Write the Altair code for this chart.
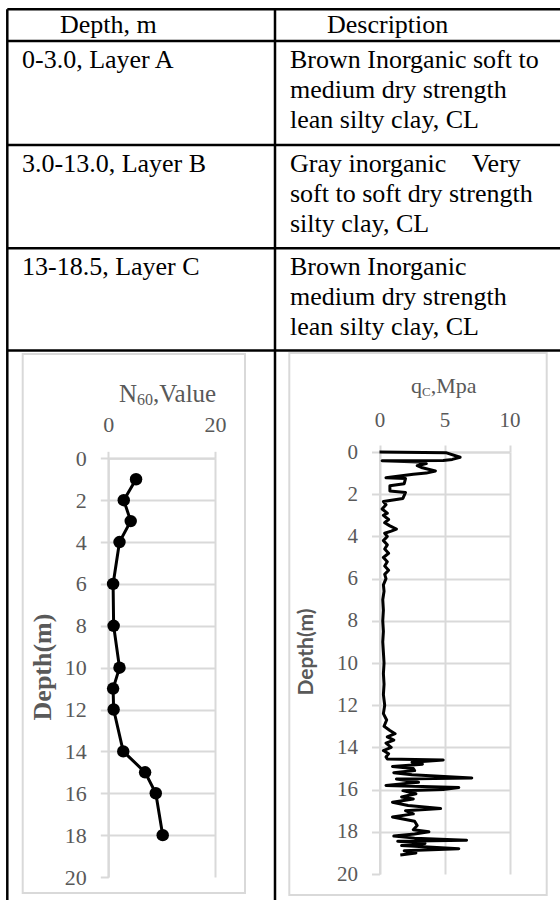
import altair as alt
import pandas as pd

# ------------------------------------------------------------------ data
table_header = ["Depth, m", "Description"]
layer_depths = ["0-3.0, Layer A", "3.0-13.0, Layer B", "13-18.5, Layer C"]
layer_desc = [
    ["Brown Inorganic soft to", "medium dry strength", "lean silty clay, CL"],
    ["Gray inorganic\u00a0\u00a0\u00a0 Very", "soft to soft dry strength", "silty clay, CL"],
    ["Brown Inorganic", "medium dry strength", "lean silty clay, CL"],
]

n60_depth = [1, 2, 3, 4, 6, 8, 10, 11, 12, 14, 15, 16, 18]
n60_value = [5.2, 2.9, 4.2, 2.1, 0.9, 1.0, 2.1, 0.9, 1.0, 2.8, 6.9, 8.9, 10.2]

qc_depth = [0.00, 0.03, 0.25, 0.35, 0.40, 0.42, 0.47, 0.55, 0.65, 0.75, 0.90, 1.00, 1.05,
            1.22, 1.26, 1.50, 1.60, 1.85, 1.92, 2.20, 2.35, 2.50, 2.70, 2.90, 3.00, 3.20,
            3.35, 3.50, 3.65, 3.75, 3.85, 4.00, 4.20, 4.40, 4.60, 4.80, 5.00, 5.20, 5.40,
            5.60, 5.80, 6.00, 6.30, 6.60, 7.00, 7.50, 8.00, 8.50, 9.00, 9.50, 10.00, 10.50,
            11.00, 11.50, 12.00, 12.40, 12.70, 13.00, 13.20, 13.35, 13.50, 13.65, 13.80,
            14.00, 14.15, 14.30, 14.45, 14.55, 14.60, 14.70, 14.80, 14.90, 15.00, 15.10,
            15.20, 15.30, 15.45, 15.50, 15.65, 15.80, 15.90, 16.00, 16.05, 16.20, 16.35,
            16.45, 16.60, 16.75, 16.90, 17.00, 17.15, 17.30, 17.50, 17.70, 17.90, 18.00,
            18.10, 18.20, 18.30, 18.40, 18.45, 18.55, 18.65, 18.80, 18.90, 19.00, 19.10]
qc_value = [0.0, 5.1, 6.2, 5.6, 4.9, 0.2, 3.0, 3.6, 2.9, 3.3, 4.3, 3.6, 2.6,
            0.5, 2.0, 1.9, 0.8, 0.8, 2.0, 1.8, 0.3, 0.5, 0.2, 0.6, 0.3, 0.7,
            0.4, 0.8, 1.3, 0.9, 0.4, 0.6, 0.3, 0.6, 0.4, 0.7, 0.3, 0.6, 0.4,
            0.7, 0.4, 0.5, 0.3, 0.35, 0.25, 0.3, 0.25, 0.3, 0.25, 0.3, 0.35, 0.3,
            0.35, 0.3, 0.4, 0.3, 0.55, 0.35, 0.8, 1.2, 0.6, 1.1, 0.5,
            0.9, 0.3, 0.7, 0.5, 0.6, 4.9, 2.5, 3.3, 1.0, 2.6, 2.7,
            1.1, 2.5, 7.1, 1.3, 3.0, 0.5, 6.1, 4.9, 1.8, 2.8, 1.7,
            2.6, 1.0, 2.2, 4.7, 2.0, 2.6, 1.0, 2.7, 2.9, 2.6, 3.8,
            2.7, 1.1, 2.7, 6.7, 1.4, 3.5, 1.7, 6.1, 1.9, 2.8, 1.6]

depth_ticks = [0, 2, 4, 6, 8, 10, 12, 14, 16, 18, 20]
n60_ticks = [0, 20]
qc_ticks = [0, 5, 10]

# ------------------------------------------------------------------ layout / style
W, H = 560, 900
SERIF = "Liberation Serif"
SANS = "Lato"
TXT = "#595959"
GRID = "#d9d9d9"

TBL_L, TBL_M, TBL_R, TBL_T = 7.3, 275, 560, 9.3
ROW_LINES = [41, 145, 248.3, 350.5]
HEAD_BASE = 33
COL1_X, COL2_X = 22, 290
HEAD_X = [60, 327]
FIRST_BASE, LINE_GAP = 27, 30
TBL_FONT = 26

LEFT_BOX = (22.7, 245, 354, 893)
RIGHT_BOX = (289.3, 546.7, 353, 895)
L_X, L_Y = [108.3, 215], [458.3, 877]
R_X, R_Y = [379.5, 509.5], [452, 874]

# ------------------------------------------------------------------ table
seg = [dict(x=TBL_L, x2=TBL_R, y=TBL_T, y2=TBL_T)]
seg += [dict(x=TBL_L, x2=TBL_R, y=r, y2=r) for r in ROW_LINES]
seg += [dict(x=TBL_L, x2=TBL_L, y=TBL_T, y2=H), dict(x=TBL_M, x2=TBL_M, y=TBL_T, y2=H)]
rules = alt.Chart(pd.DataFrame(seg)).mark_rule(color="black", strokeWidth=2.5).encode(
    x=alt.X("x:Q", scale=None), x2="x2:Q", y=alt.Y("y:Q", scale=None), y2="y2:Q")

txt = [dict(x=HEAD_X[0], y=HEAD_BASE, t=table_header[0]),
       dict(x=HEAD_X[1], y=HEAD_BASE, t=table_header[1])]
for i, (d, lines) in enumerate(zip(layer_depths, layer_desc)):
    top = ROW_LINES[i]
    txt.append(dict(x=COL1_X, y=top + FIRST_BASE, t=d))
    for j, ln in enumerate(lines):
        txt.append(dict(x=COL2_X, y=top + FIRST_BASE + j * LINE_GAP, t=ln))
table_text = alt.Chart(pd.DataFrame(txt)).mark_text(
    font=SERIF, fontSize=TBL_FONT, align="left", baseline="alphabetic", color="black"
).encode(x=alt.X("x:Q", scale=None), y=alt.Y("y:Q", scale=None), text="t:N")

# ------------------------------------------------------------------ panel boxes
boxes = alt.Chart(pd.DataFrame([
    dict(x=LEFT_BOX[0], x2=LEFT_BOX[1], y=LEFT_BOX[2], y2=LEFT_BOX[3]),
    dict(x=RIGHT_BOX[0], x2=RIGHT_BOX[1], y=RIGHT_BOX[2], y2=RIGHT_BOX[3]),
])).mark_rect(filled=False, stroke=GRID, strokeWidth=2).encode(
    x=alt.X("x:Q", scale=None), x2="x2:Q", y=alt.Y("y:Q", scale=None), y2="y2:Q")


def depth_axis(x0, fs):
    return alt.Axis(orient="left", offset=-x0, values=depth_ticks, title=None,
                    labelFont=SERIF, labelFontSize=fs, labelColor=TXT, labelPadding=14,
                    tickSize=8, tickColor=GRID, tickWidth=2,
                    domainColor=GRID, domainWidth=2, grid=True,
                    gridColor={"condition": {"test": "datum.value === 20", "value": "transparent"},
                               "value": GRID},
                    gridWidth=2, labelFlush=False, labelOverlap=False)


def top_axis(y0, ticks, fs):
    return alt.Axis(orient="top", offset=-y0, values=ticks, title=None,
                    labelFont=SERIF, labelFontSize=fs, labelColor=TXT, labelPadding=15,
                    tickSize=7, tickColor=GRID, tickWidth=2,
                    domainColor=GRID, domainWidth=2, grid=True, gridColor=GRID,
                    gridWidth=2, labelFlush=False, labelOverlap=False)


# ------------------------------------------------------------------ N60 panel
n60 = pd.DataFrame({"depth": n60_depth, "value": n60_value})
base_n = alt.Chart(n60).encode(
    x=alt.X("value:Q", scale=alt.Scale(domain=[0, 20], range=L_X, nice=False, zero=False),
            axis=top_axis(L_Y[0], n60_ticks, 22)),
    y=alt.Y("depth:Q", scale=alt.Scale(domain=[0, 20], range=L_Y, nice=False, zero=False),
            axis=depth_axis(L_X[0], 22)),
    order=alt.Order("depth:Q"),
)
left_panel = alt.layer(
    base_n.mark_line(color="black", strokeWidth=3, strokeJoin="round"),
    base_n.mark_point(filled=True, color="black", size=155, opacity=1),
)

# ------------------------------------------------------------------ qc panel
qc = pd.DataFrame({"depth": qc_depth, "value": qc_value, "i": range(len(qc_depth))})
right_panel = alt.Chart(qc).mark_line(color="black", strokeWidth=3, strokeJoin="round").encode(
    x=alt.X("value:Q", scale=alt.Scale(domain=[0, 10], range=R_X, nice=False, zero=False),
            axis=top_axis(R_Y[0], qc_ticks, 21)),
    y=alt.Y("depth:Q", scale=alt.Scale(domain=[0, 20], range=R_Y, nice=False, zero=False),
            axis=depth_axis(R_X[0], 21)),
    order=alt.Order("i:Q"),
)

# ------------------------------------------------------------------ titles
title_pieces = pd.DataFrame([
    dict(x=119, y=402, t="N", s=25),
    dict(x=137, y=405, t="60", s=16),
    dict(x=153, y=402, t=",Value", s=25),
    dict(x=411, y=393, t="q", s=22),
    dict(x=422, y=396, t="C", s=13),
    dict(x=430.7, y=393, t=",Mpa", s=22),
])
titles = alt.Chart(title_pieces).mark_text(
    font=SERIF, align="left", baseline="alphabetic", color=TXT
).encode(x=alt.X("x:Q", scale=None), y=alt.Y("y:Q", scale=None), text="t:N",
         size=alt.Size("s:Q", scale=None, legend=None))

ytitle_left = alt.Chart(pd.DataFrame([dict(x=43, y=667, t="Depth(m)")])).mark_text(
    font=SERIF, fontWeight="bold", fontSize=26, angle=270, align="center",
    baseline="middle", color=TXT
).encode(x=alt.X("x:Q", scale=None), y=alt.Y("y:Q", scale=None), text="t:N")

ytitle_right = alt.Chart(pd.DataFrame([dict(x=307, y=652, t="Depth(m)")])).mark_text(
    font=SANS, fontWeight="bold", fontSize=21, angle=270, align="center",
    baseline="middle", color=TXT
).encode(x=alt.X("x:Q", scale=None), y=alt.Y("y:Q", scale=None), text="t:N")

chart = alt.layer(
    boxes, rules, table_text, left_panel, right_panel, titles, ytitle_left, ytitle_right
).resolve_scale(x="independent", y="independent").properties(
    width=W, height=H, autosize=alt.AutoSizeParams(type="none"), padding=0,
    background="white"
).configure_view(strokeWidth=0)

chart.save("out.html", embed_options={"renderer": "svg", "actions": False})
